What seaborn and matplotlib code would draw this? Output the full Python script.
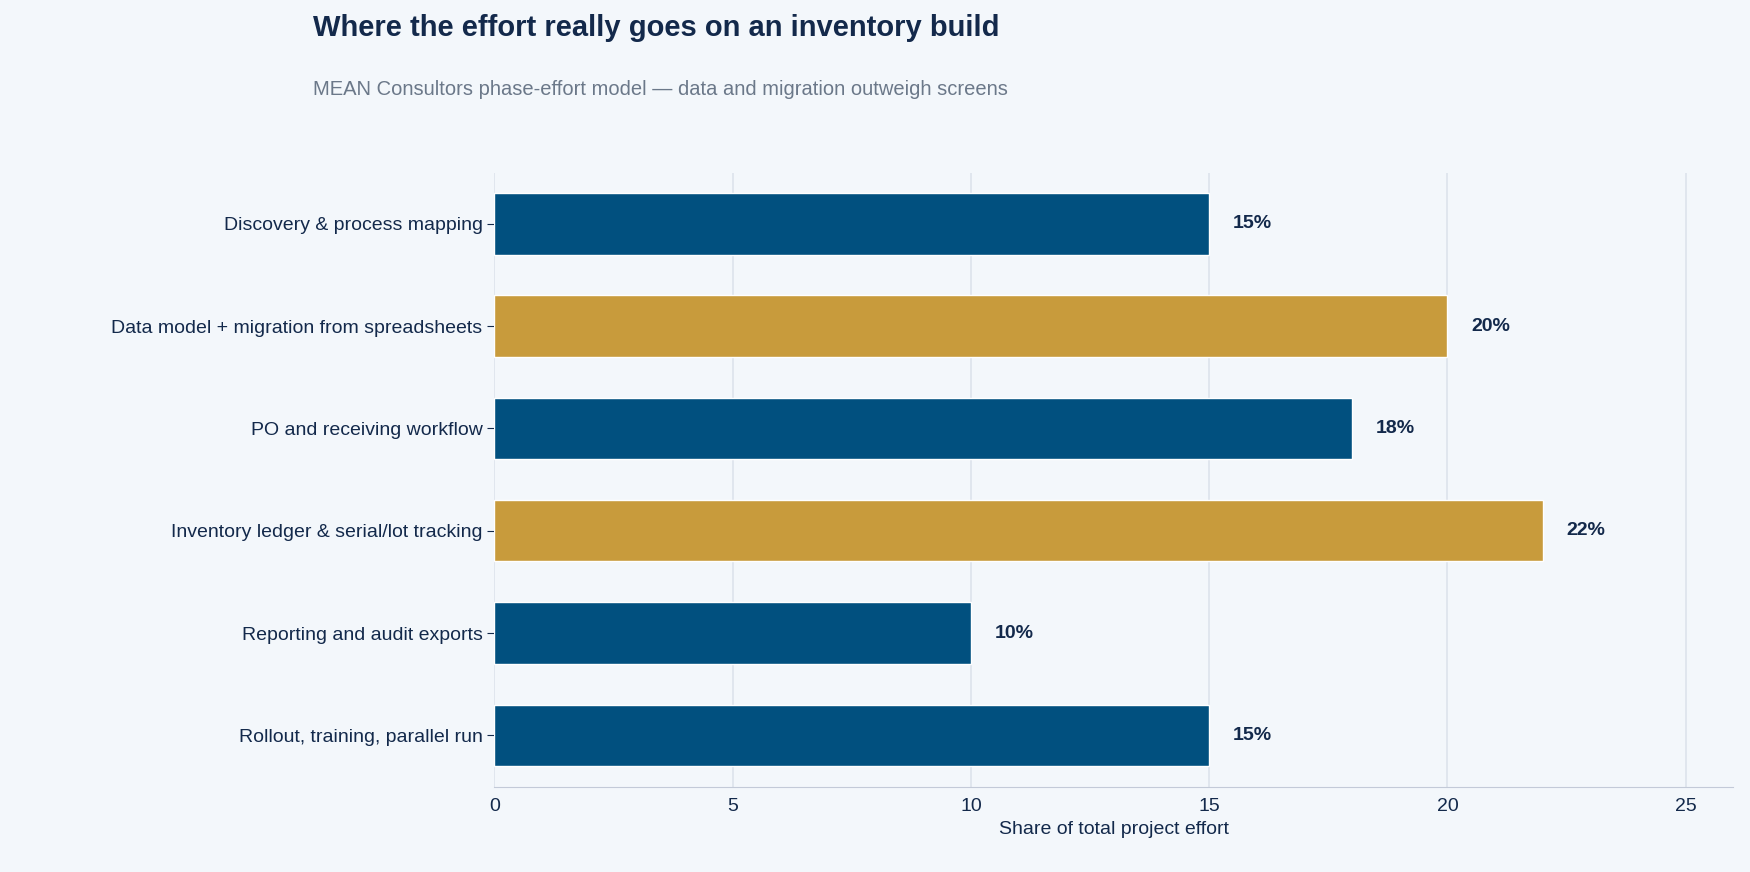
import pandas as pd
import matplotlib.pyplot as plt
import seaborn as sns

# Data
phases = ["Discovery & process mapping",
          "Data model + migration from spreadsheets",
          "PO and receiving workflow",
          "Inventory ledger & serial/lot tracking",
          "Reporting and audit exports",
          "Rollout, training, parallel run"]
effort = [15, 20, 18, 22, 10, 15]
highlight = [False, True, False, True, False, False]

navy = "#01507f"
gold = "#c89b3c"
text_col = "#13294b"
bg = "#f3f7fb"

df = pd.DataFrame({"phase": phases, "effort": effort})
colors = [gold if h else navy for h in highlight]

sns.set_style("white")
plt.rcParams['font.family'] = ['Liberation Sans', 'DejaVu Sans']

fig = plt.figure(figsize=(17.5, 8.72), dpi=100, facecolor=bg)
ax = fig.add_axes([0.2825, 0.098, 0.708, 0.704])
ax.set_facecolor(bg)

sns.barplot(data=df, x="effort", y="phase", hue="phase", palette=colors,
            legend=False, width=0.6, ax=ax, saturation=1)

for i, v in enumerate(effort):
    ax.text(v + 0.5, i, f"{v}%", va="center", ha="left", fontsize=14,
            fontweight="bold", color=text_col)

ax.set_xlim(0, 26)
ax.set_xticks([0, 5, 10, 15, 20, 25])
ax.xaxis.grid(True, color="#dde3ec", linewidth=1.2)
ax.set_axisbelow(True)
for s in ["top", "right", "left"]:
    ax.spines[s].set_visible(False)
ax.spines["bottom"].set_color("#c3cad8")
ax.tick_params(axis="x", colors=text_col, labelsize=14, length=5, color="#c3cad8")
ax.tick_params(axis="y", colors=text_col, labelsize=14, length=5, color=text_col, left=True)
ax.set_ylabel("")
ax.set_xlabel("Share of total project effort", fontsize=14, color=text_col)

fig.text(0.179, 0.968, "Where the effort really goes on an inventory build",
         fontsize=21, fontweight="bold", color=text_col, va="center")
fig.text(0.179, 0.897, "MEAN Consultors phase-effort model \u2014 data and migration outweigh screens",
         fontsize=14.5, color="#6b7889", va="center")

fig.savefig("out.png", dpi=100, facecolor=bg)
